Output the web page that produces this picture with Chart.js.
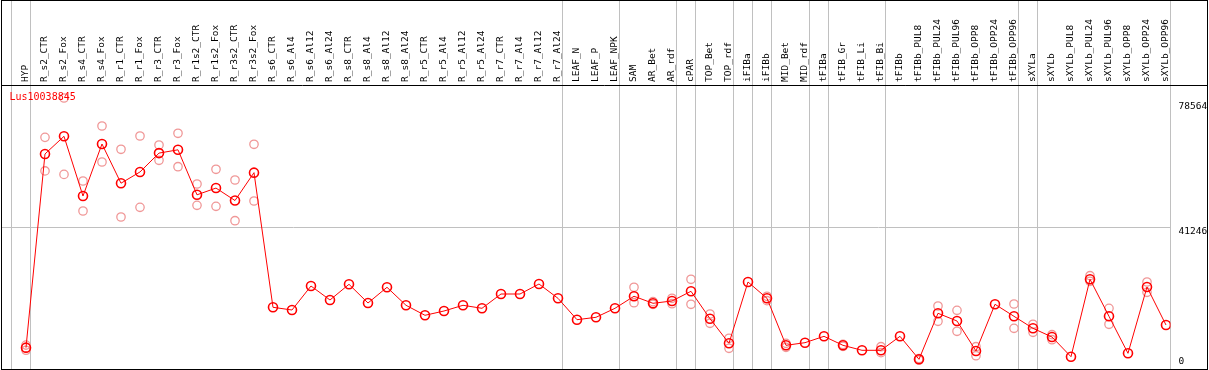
<!DOCTYPE html>
<html><head><meta charset="utf-8">
<script src="https://cdn.jsdelivr.net/npm/chart.js@4/dist/chart.umd.min.js"></script>
<style>html,body{margin:0;padding:0;background:#fff;}canvas{display:block;}</style>
</head><body>
<canvas id="c" width="1209" height="370"></canvas>
<script>
const categories = ['HYP','R_s2_CTR','R_s2_Fox','R_s4_CTR','R_s4_Fox','R_r1_CTR','R_r1_Fox','R_r3_CTR','R_r3_Fox','R_r1s2_CTR','R_r1s2_Fox','R_r3s2_CTR','R_r3s2_Fox','R_s6_CTR','R_s6_Al4','R_s6_Al12','R_s6_Al24','R_s8_CTR','R_s8_Al4','R_s8_Al12','R_s8_Al24','R_r5_CTR','R_r5_Al4','R_r5_Al12','R_r5_Al24','R_r7_CTR','R_r7_Al4','R_r7_Al12','R_r7_Al24','LEAF_N','LEAF_P','LEAF_NPK','SAM','AR_Bet','AR_rdf','cPAR','TOP_Bet','TOP_rdf','iFIBa','iFIBb','MID_Bet','MID_rdf','tFIBa','tFIB_Gr','tFIB_Li','tFIB_Bi','tFIBb','tFIBb_PUL8','tFIBb_PUL24','tFIBb_PUL96','tFIBb_OPP8','tFIBb_OPP24','tFIBb_OPP96','sXYLa','sXYLb','sXYLb_PUL8','sXYLb_PUL24','sXYLb_PUL96','sXYLb_OPP8','sXYLb_OPP24','sXYLb_OPP96'];
const seriesName = 'Lus10038845';
const meanValues = [6450,62400,67500,50250,65280,53950,57200,62650,63600,50600,52550,48950,57000,18110,17330,24260,20220,24750,19350,23890,18690,15800,17040,18690,17820,21950,21950,24840,20710,14530,15220,17820,21300,19270,19930,22730,14820,7710,25420,20710,7130,7890,9730,7130,5690,5690,9730,3090,16380,14150,5490,18980,15510,12040,9530,3840,26200,15510,4820,23970,13000];
const replicateA = [7200,67200,78564,54590,70480,63750,67590,64990,68370,53720,57970,54880,65190,null,null,null,null,null,null,null,null,null,null,null,null,null,null,null,null,null,null,null,23890,19730,20710,26200,16170,9160,null,21290,7710,null,null,7400,null,6730,null,3300,18490,17240,6730,null,19060,13200,10200,null,27240,17820,null,25420,null];
const replicateB = [5700,57500,56500,45920,60080,44190,46990,60570,58720,47570,47280,43120,48810,null,null,null,null,null,null,null,null,null,null,null,null,null,null,null,null,null,null,null,19440,18980,19150,18980,13490,6270,null,20020,6560,null,null,6850,null,5000,null,2900,14070,11180,4130,null,12040,10890,8750,null,25620,13200,null,22440,null];
const groupBoundaries = [-1,0,28,31,34,35,37,38,39,41,42,45,52,53,60];
const yTickValues = [0, 41246, 78564];
const yGridValues = [41246];

const FONT = 'DejaVu Sans Mono';
const xFont = {family: FONT, size: 9.5, lineHeight: 1.2};
const yFont = {family: FONT, size: 9.5, lineHeight: '8.5px'};

// label line padding nudges the bottom label up and the top label down, as in the original
function yLabel(v) {
  if (v === yTickValues[0]) return [String(v), '', '', ''];
  if (v === yTickValues[2]) return ['', String(v)];
  return String(v);
}

const framePlugin = {
  id: 'frame',
  beforeDatasetsDraw(chart) {
    const {ctx, chartArea, scales} = chart;
    ctx.save();
    ctx.strokeStyle = '#c0c0c0';
    ctx.lineWidth = 1;
    groupBoundaries.forEach(b => {
      const x = Math.floor(scales.x.getPixelForValue(b + 0.25)) + 0.5;
      ctx.beginPath(); ctx.moveTo(x, 0); ctx.lineTo(x, chartArea.bottom); ctx.stroke();
    });
    ctx.restore();
  },
  afterDraw(chart) {
    const {ctx, chartArea, width} = chart;
    ctx.save();
    ctx.strokeStyle = '#000';
    ctx.lineWidth = 1;
    ctx.strokeRect(chartArea.left + 0.5, 0.5, width - 2 - chartArea.left, chartArea.bottom - 1);
    ctx.beginPath(); ctx.moveTo(chartArea.left, chartArea.top + 0.5); ctx.lineTo(width - 1.5, chartArea.top + 0.5); ctx.stroke();
    ctx.fillStyle = '#ff0000';
    ctx.font = '10px "' + FONT + '"';
    ctx.textBaseline = 'middle';
    ctx.textAlign = 'left';
    ctx.fillText(seriesName, chartArea.left + 8.5, chartArea.top + 12.5);
    ctx.restore();
  }
};

const mainPoints = meanValues.map((v, i) => ({x: i, y: v}));
const repPoints = [];
categories.forEach((c, i) => {
  if (replicateA[i] != null) repPoints.push({x: i, y: replicateA[i]});
  if (replicateB[i] != null) repPoints.push({x: i, y: replicateB[i]});
});

new Chart(document.getElementById('c'), {
  type: 'line',
  data: {
    datasets: [
      {label: seriesName, data: mainPoints, order: 0, borderColor: '#ff0000', borderWidth: 1,
       pointRadius: 4.5, pointBorderWidth: 1.6, pointBorderColor: '#ff0000', pointBackgroundColor: 'rgba(0,0,0,0)',
       tension: 0, fill: false},
      {label: 'replicates', data: repPoints, order: 1, showLine: false,
       pointRadius: 4.2, pointBorderWidth: 1.3, pointBorderColor: '#f09898', pointBackgroundColor: 'rgba(0,0,0,0)'}
    ]
  },
  options: {
    responsive: false, animation: false, events: [],
    layout: {autoPadding: false, padding: {left: 1, right: 0, top: 0, bottom: 0}},
    plugins: {legend: {display: false}, tooltip: {enabled: false}, title: {display: false}},
    scales: {
      x: {
        type: 'linear', position: 'top', min: -25 / 19, max: 60.237,
        afterBuildTicks: s => { s.ticks = categories.map((c, i) => ({value: i})); },
        afterFit: s => { s.height = 85; s.paddingLeft = 0; s.paddingRight = 0; },
        grid: {display: false, drawTicks: false},
        border: {display: false},
        ticks: {autoSkip: false, maxRotation: 90, minRotation: 90, padding: 3, labelOffset: 11.4,
                font: xFont, color: '#000', callback: (v, i) => categories[i]}
      },
      y: {
        type: 'linear', position: 'right', min: 0, max: 82319,
        afterBuildTicks: s => { s.ticks = yTickValues.map(v => ({value: v})); },
        afterFit: s => { s.width = 38.5; s.paddingTop = 0; s.paddingBottom = 0; },
        grid: {color: c => (c.tick && yGridValues.includes(c.tick.value)) ? '#c0c0c0' : 'rgba(0,0,0,0)', lineWidth: 1, drawTicks: false},
        border: {display: false},
        ticks: {autoSkip: false, padding: 8, labelOffset: 4.3, font: yFont, color: '#000', callback: v => yLabel(v)}
      }
    }
  },
  plugins: [framePlugin]
});
</script>
</body></html>
